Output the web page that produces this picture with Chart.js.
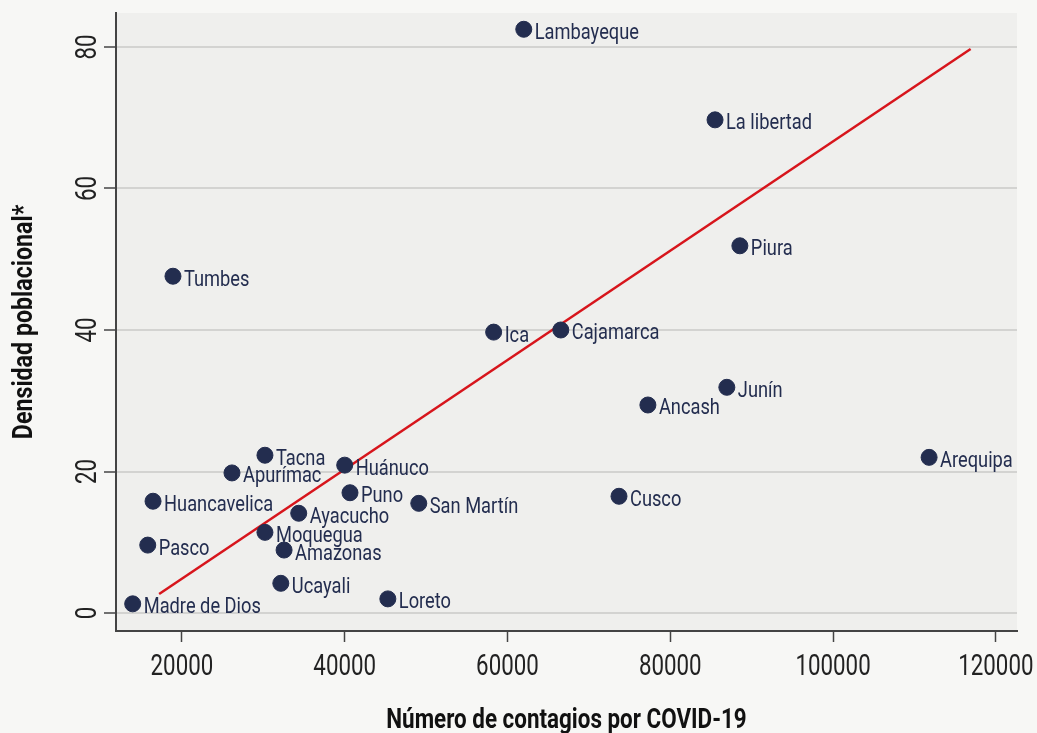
<!DOCTYPE html>
<html>
<head>
<meta charset="utf-8">
<script src="https://cdn.jsdelivr.net/npm/chart.js@4.4.1/dist/chart.umd.min.js"></script>
<style>
  html, body { margin: 0; background: #f7f7f5; }
  #wrap { width: 1037px; height: 733px; position: relative; }
</style>
</head>
<body>
<div id="wrap"><canvas id="chart"></canvas></div>
<script>
const regiones = ['Lambayeque', 'La libertad', 'Piura', 'Tumbes', 'Ica', 'Cajamarca', 'Junín', 'Ancash',
  'Arequipa', 'Tacna', 'Apurímac', 'Huánuco', 'Huancavelica', 'Puno', 'San Martín', 'Cusco', 'Ayacucho',
  'Moquegua', 'Pasco', 'Amazonas', 'Ucayali', 'Loreto', 'Madre de Dios'];
const contagios = [62000, 85500, 88550, 18900, 58300, 66550, 86950, 77250,
  111800, 30200, 26150, 40000, 16450, 40650, 49100, 73700, 34350,
  30200, 15800, 32550, 32150, 45300, 13950];
const densidad = [82.5, 69.7, 51.9, 47.6, 39.7, 40.0, 31.9, 29.4,
  22.0, 22.3, 19.8, 20.9, 15.8, 17.0, 15.5, 16.5, 14.1,
  11.4, 9.6, 8.9, 4.2, 2.0, 1.3];
// recta de ajuste
const fitX = [17200, 116900];
const fitY = [2.7, 79.7];
const xTicks = [20000, 40000, 60000, 80000, 100000, 120000];
const yTicks = [0, 20, 40, 60, 80];
const xTitle = 'Número de contagios por COVID-19';
const yTitle = 'Densidad poblacional*';

const FONT = "Roboto, 'Noto Sans', sans-serif";
const NAVY = '#232d4f';

// texto estrecho (la fuente original es condensada)
const narrowText = (ctx, txt, x, y, sx, rot) => {
  ctx.save();
  ctx.translate(x, y);
  if (rot) ctx.rotate(rot);
  ctx.scale(sx, 1);
  ctx.fillText(txt, 0, 0);
  ctx.restore();
};

const bgPlugin = {
  id: 'bg',
  beforeDraw(chart) {
    const { ctx, chartArea: a } = chart;
    ctx.save();
    ctx.fillStyle = '#efefed';
    ctx.fillRect(a.left, a.top, a.right - a.left, a.bottom - a.top);
    ctx.restore();
  }
};

const labelPlugin = {
  id: 'labels',
  afterDatasetsDraw(chart) {
    const { ctx } = chart;
    const meta = chart.getDatasetMeta(0);
    ctx.save();
    ctx.font = '22px ' + FONT;
    ctx.fillStyle = NAVY;
    ctx.textAlign = 'left';
    ctx.textBaseline = 'alphabetic';
    meta.data.forEach((pt, i) => {
      narrowText(ctx, regiones[i], pt.x + 11, pt.y + 9.5, 0.83);
    });
    ctx.restore();
  }
};

const axisTextPlugin = {
  id: 'axisText',
  afterDraw(chart) {
    const { ctx, scales: { x, y }, chartArea: a } = chart;
    ctx.save();
    ctx.fillStyle = '#222';
    ctx.font = '29px ' + FONT;
    ctx.textAlign = 'center';
    ctx.textBaseline = 'alphabetic';
    xTicks.forEach((v) => narrowText(ctx, String(v), x.getPixelForValue(v), a.bottom + 44, 0.77));
    yTicks.forEach((v) => narrowText(ctx, String(v), a.left - 20, y.getPixelForValue(v), 0.77, -Math.PI / 2));
    ctx.fillStyle = '#111';
    ctx.font = 'bold 27px ' + FONT;
    narrowText(ctx, xTitle, (a.left + a.right) / 2, 728, 0.83);
    narrowText(ctx, yTitle, 32, (a.top + a.bottom) / 2, 0.86, -Math.PI / 2);
    ctx.restore();
  }
};

new Chart(document.getElementById('chart'), {
  type: 'scatter',
  data: {
    datasets: [
      {
        data: contagios.map((x, i) => ({ x, y: densidad[i] })),
        backgroundColor: NAVY,
        borderColor: NAVY,
        pointRadius: 8,
        pointHoverRadius: 8,
        order: 0
      },
      {
        type: 'line',
        data: fitX.map((x, i) => ({ x, y: fitY[i] })),
        borderColor: '#d7151c',
        borderWidth: 2.5,
        pointRadius: 0,
        fill: false,
        order: 1
      }
    ]
  },
  plugins: [bgPlugin, labelPlugin, axisTextPlugin],
  options: {
    responsive: true,
    maintainAspectRatio: false,
    animation: false,
    layout: { padding: { left: 0, top: 13, right: 20, bottom: 0 } },
    plugins: { legend: { display: false }, tooltip: { enabled: false } },
    scales: {
      x: {
        type: 'linear',
        min: 11900,
        max: 122600,
        afterBuildTicks: (s) => { s.ticks = xTicks.map((v) => ({ value: v })); },
        afterFit: (s) => {
          s.height = 102;
          s.paddingLeft = s.paddingRight = s.paddingTop = s.paddingBottom = 0;
        },
        grid: { drawOnChartArea: false, tickLength: 11, tickColor: '#444', tickWidth: 1.5 },
        border: { display: true, color: '#444', width: 2 },
        ticks: { display: false }
      },
      y: {
        min: -2.54,
        max: 84.8,
        afterBuildTicks: (s) => { s.ticks = yTicks.map((v) => ({ value: v })); },
        afterFit: (s) => {
          s.width = 116;
          s.paddingLeft = s.paddingRight = s.paddingTop = s.paddingBottom = 0;
        },
        grid: { color: '#d3d3d1', lineWidth: 2, tickLength: 12, tickColor: '#444', tickWidth: 1.5 },
        border: { display: true, color: '#444', width: 2 },
        ticks: { display: false }
      }
    }
  }
});
</script>
</body>
</html>
